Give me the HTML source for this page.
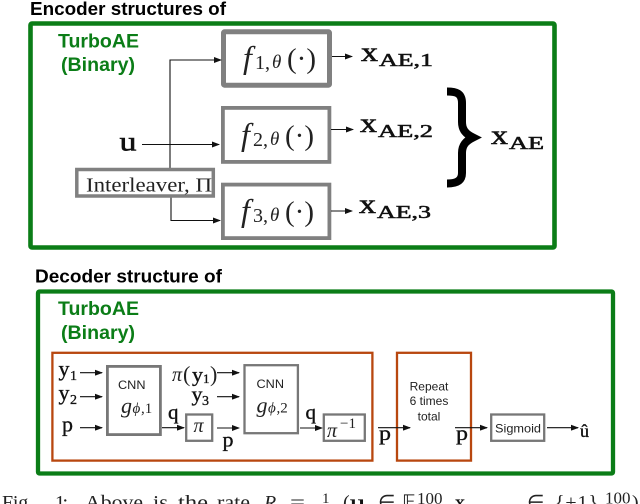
<!DOCTYPE html>
<html><head><meta charset="utf-8"><style>
html,body{margin:0;padding:0;background:#fff;width:640px;height:504px;overflow:hidden}
svg{display:block}
.h{font-family:"Liberation Sans",sans-serif;font-weight:bold}
.s{font-family:"Liberation Sans",sans-serif;fill:#222}
.m{font-family:"Liberation Serif",serif;fill:#222}
.b{font-family:"Liberation Serif",serif;fill:#111;stroke:#111;stroke-width:.55}
.c{font-family:"Liberation Serif",serif;fill:#111;stroke:#111;stroke-width:.35}
.i{font-family:"Liberation Serif",serif;font-style:italic;fill:#222}
.g{fill:#0b7d17}
</style></head><body>
<svg width="640" height="504" viewBox="0 0 640 504" xmlns="http://www.w3.org/2000/svg">
<defs><marker id="a" markerWidth="8" markerHeight="6" refX="7" refY="3" orient="auto" markerUnits="userSpaceOnUse"><path d="M0 0L8 3L0 6Z" fill="#111"/></marker></defs>
<text class="h" x="30" y="15" font-size="18.500" textLength="196" lengthAdjust="spacingAndGlyphs">Encoder structures of</text>
<rect x="30.500" y="23.500" width="524" height="224" rx="1.500" fill="none" stroke="#0b7d17" stroke-width="4.600"/>
<text class="h g" x="58" y="47.500" font-size="19" textLength="81" lengthAdjust="spacingAndGlyphs">TurboAE</text>
<text class="h g" x="61" y="71" font-size="19" textLength="74" lengthAdjust="spacingAndGlyphs">(Binary)</text>
<g fill="none" stroke="#808080" stroke-width="5">
<rect x="223.500" y="31.800" width="106" height="53.400" rx="1"/>
</g>
<g fill="none" stroke="#808080" stroke-width="3.800">
<rect x="222.900" y="107.900" width="106.500" height="54"/>
<rect x="222.900" y="184.600" width="106.500" height="53.500"/>
</g>
<g fill="none" stroke="#111" stroke-width="1.100">
<path d="M170 168V60H221" marker-end="url(#a)"/>
<path d="M142 144.500H219" marker-end="url(#a)"/>
<path d="M171 197V220.500H220" marker-end="url(#a)"/>
<path d="M332 56.500H352" marker-end="url(#a)"/>
<path d="M331 129.500H353" marker-end="url(#a)"/>
<path d="M331 211H352" marker-end="url(#a)"/>
</g>
<rect x="76.800" y="169.500" width="136.500" height="26.500" fill="none" stroke="#808080" stroke-width="3.500"/>
<text class="m" x="86" y="191.500" font-size="20" textLength="126" lengthAdjust="spacingAndGlyphs">Interleaver, Π</text>
<text class="b" x="119.500" y="150.500" font-size="27" textLength="17" lengthAdjust="spacingAndGlyphs">u</text>
<g>
<text class="i" x="243" y="68" font-size="32">f</text><text class="m" x="255" y="69" font-size="20">1,</text><text class="i" x="272" y="68" font-size="19">θ</text><text class="m" x="287" y="68" font-size="29">(·)</text>
<text class="i" x="241" y="145" font-size="32">f</text><text class="m" x="253" y="146" font-size="20">2,</text><text class="i" x="270" y="145" font-size="19">θ</text><text class="m" x="285" y="145" font-size="29">(·)</text>
<text class="i" x="241" y="221" font-size="32">f</text><text class="m" x="253" y="222" font-size="20">3,</text><text class="i" x="270" y="221" font-size="19">θ</text><text class="m" x="285" y="221" font-size="29">(·)</text>
</g>
<text class="b" x="361" y="61" font-size="27" textLength="17" lengthAdjust="spacingAndGlyphs">x</text><text class="b" x="379" y="66" font-size="18" textLength="54" lengthAdjust="spacingAndGlyphs">AE,1</text>
<text class="b" x="360" y="132" font-size="27" textLength="17" lengthAdjust="spacingAndGlyphs">x</text><text class="b" x="378" y="137" font-size="18" textLength="55" lengthAdjust="spacingAndGlyphs">AE,2</text>
<text class="b" x="359" y="213" font-size="27" textLength="17" lengthAdjust="spacingAndGlyphs">x</text><text class="b" x="377" y="218" font-size="18" textLength="54" lengthAdjust="spacingAndGlyphs">AE,3</text>
<text class="b" x="491" y="144" font-size="27" textLength="17" lengthAdjust="spacingAndGlyphs">x</text><text class="b" x="509" y="149" font-size="18" textLength="35" lengthAdjust="spacingAndGlyphs">AE</text>
<path d="M447 91.500C456 91.500 462 93 462 103V122C462 130 466 134 473 137.500C466 141 462 145 462 153V173C462 181 456 183.500 447 183.500" fill="none" stroke="#000" stroke-width="8"/>

<text class="h" x="35" y="282.500" font-size="18.500" textLength="187" lengthAdjust="spacingAndGlyphs">Decoder structure of</text>
<rect x="38" y="291.500" width="575" height="182" rx="1.500" fill="none" stroke="#0b7d17" stroke-width="4.300"/>
<text class="h g" x="58" y="315" font-size="19" textLength="81" lengthAdjust="spacingAndGlyphs">TurboAE</text>
<text class="h g" x="61" y="339" font-size="19" textLength="74" lengthAdjust="spacingAndGlyphs">(Binary)</text>
<g fill="none" stroke="#b8470f" stroke-width="2.300">
<rect x="52.400" y="352.800" width="320" height="107.800"/>
<rect x="397" y="352.800" width="74" height="107.800"/>
</g>
<g fill="none" stroke="#777" stroke-width="2.800">
<rect x="107.400" y="366.400" width="53" height="68.200"/>
</g>
<g fill="none" stroke="#777" stroke-width="2.300">
<rect x="244.500" y="365.200" width="53.400" height="68"/>
<rect x="186.200" y="414.500" width="26" height="26.300"/>
<rect x="323.800" y="414.500" width="41" height="26.300"/>
<rect x="491.200" y="414.500" width="53" height="26.300"/>
</g>
<g fill="none" stroke="#111" stroke-width="1.100">
<path d="M80 372.700H102" marker-end="url(#a)"/>
<path d="M80 396.700H102" marker-end="url(#a)"/>
<path d="M80 427.700H102" marker-end="url(#a)"/>
<path d="M162 427.700H184" marker-end="url(#a)"/>
<path d="M217 372.700H239" marker-end="url(#a)"/>
<path d="M217 396.700H239" marker-end="url(#a)"/>
<path d="M217 428H239" marker-end="url(#a)"/>
<path d="M300 428H322" marker-end="url(#a)"/>
<path d="M378 427.700H410" marker-end="url(#a)"/>
<path d="M455 427.700H487" marker-end="url(#a)"/>
<path d="M547 427.700H578" marker-end="url(#a)"/>
</g>
<text class="c" x="58.500" y="376" font-size="22" textLength="11" lengthAdjust="spacingAndGlyphs">y</text><text class="c" x="70" y="380" font-size="14">1</text>
<text class="c" x="58.500" y="400" font-size="22" textLength="11" lengthAdjust="spacingAndGlyphs">y</text><text class="c" x="70" y="404" font-size="14">2</text>
<text class="c" x="62" y="431.500" font-size="22" textLength="11" lengthAdjust="spacingAndGlyphs">p</text>
<text class="s" x="118" y="389" font-size="12" textLength="27.500" lengthAdjust="spacingAndGlyphs">CNN</text>
<text class="s" x="256.500" y="388" font-size="12" textLength="27.500" lengthAdjust="spacingAndGlyphs">CNN</text>
<text class="i" x="121" y="413" font-size="22">g</text><text class="i" x="132.500" y="413" font-size="15">ϕ</text><text class="m" x="141" y="413" font-size="15">,1</text>
<text class="i" x="256.500" y="412.500" font-size="22">g</text><text class="i" x="268" y="412.500" font-size="15">ϕ</text><text class="m" x="276.500" y="412.500" font-size="15">,2</text>
<text class="c" x="168" y="419" font-size="21" textLength="10.500" lengthAdjust="spacingAndGlyphs">q</text>
<text class="c" x="305.500" y="419" font-size="21" textLength="10.500" lengthAdjust="spacingAndGlyphs">q</text>
<text class="i" x="172" y="381" font-size="20">π</text><text class="m" x="183" y="381.500" font-size="22">(</text><text class="c" x="192" y="381.500" font-size="21" textLength="11" lengthAdjust="spacingAndGlyphs">y</text><text class="c" x="203" y="383" font-size="13">1</text><text class="m" x="210" y="381.500" font-size="22">)</text>
<text class="c" x="191.500" y="401" font-size="21" textLength="11" lengthAdjust="spacingAndGlyphs">y</text><text class="c" x="202" y="405" font-size="14">3</text>
<text class="i" x="193.500" y="432" font-size="20">π</text>
<text class="c" x="222.500" y="446.500" font-size="21" textLength="11" lengthAdjust="spacingAndGlyphs">p</text>
<text class="i" x="327" y="437" font-size="20">π</text><text class="m" x="340" y="428" font-size="15">−1</text>
<text class="c" x="379" y="440" font-size="21" textLength="12" lengthAdjust="spacingAndGlyphs">p</text>
<text class="c" x="456" y="440" font-size="21" textLength="12" lengthAdjust="spacingAndGlyphs">p</text>
<text class="s" x="429" y="390.700" font-size="12" text-anchor="middle">Repeat</text>
<text class="s" x="429" y="405" font-size="12" text-anchor="middle">6 times</text>
<text class="s" x="429" y="420.500" font-size="12" text-anchor="middle">total</text>
<text class="s" x="495" y="432.500" font-size="12" textLength="46" lengthAdjust="spacingAndGlyphs">Sigmoid</text>
<text class="c" x="580" y="437" font-size="18">û</text>

<text class="m" font-size="20" y="509" x="2" textLength="31" lengthAdjust="spacing">Fig.</text>
<text class="m" font-size="20" y="509" x="55" textLength="13" lengthAdjust="spacing">1:</text>
<text class="m" font-size="20" y="509" x="85" textLength="58" lengthAdjust="spacingAndGlyphs">Above</text>
<text class="m" font-size="20" y="509" x="153" textLength="15" lengthAdjust="spacingAndGlyphs">is</text>
<text class="m" font-size="20" y="509" x="178" textLength="30" lengthAdjust="spacingAndGlyphs">the</text>
<text class="m" font-size="20" y="509" x="217" textLength="33" lengthAdjust="spacingAndGlyphs">rate</text>
<text class="i" font-size="20" y="509" x="264">R</text>
<text class="m" font-size="20" y="509" x="290" textLength="15" lengthAdjust="spacingAndGlyphs">=</text>
<text class="m" font-size="15" y="503" x="322">1</text>
<text class="m" font-size="20" y="509" x="343">(</text>
<text class="c" font-size="20" y="509" x="350" textLength="15" lengthAdjust="spacingAndGlyphs">u</text>
<text class="m" font-size="20" y="509" x="378">∈</text>
<text class="m" font-size="20" y="509" x="402">𝔽</text>
<text class="m" font-size="17" y="504" x="417">100</text>
<text class="c" font-size="20" y="509" x="455">x</text>
<text class="m" font-size="20" y="509" x="527">∈</text>
<text class="m" font-size="20" y="509" x="555" textLength="43" lengthAdjust="spacing">{±1}</text>
<text class="m" font-size="17" y="503.500" x="605">100</text>
<text class="m" font-size="20" y="509" x="632">)</text>
</svg>
</body></html>
